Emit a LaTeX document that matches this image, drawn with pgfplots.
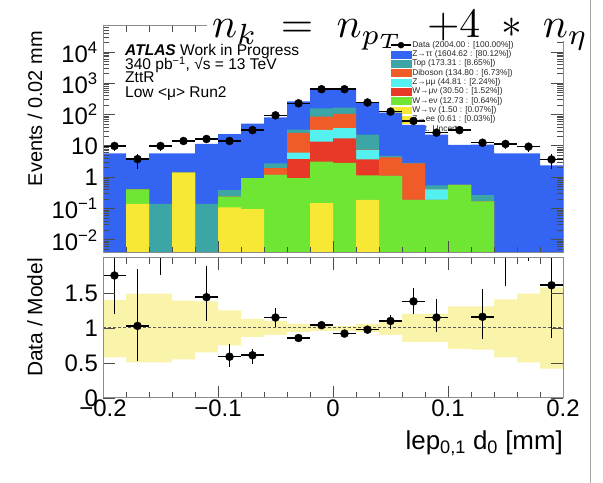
\documentclass[border=0pt]{standalone}
\usepackage{fontspec}
\setmainfont{Liberation Sans}
\usepackage{graphicx}
\usepackage{pgfplots}
\usepackage{pgfplotstable}
\pgfplotsset{compat=1.18}

\definecolor{cztt}{RGB}{52,100,242}
\definecolor{ctop}{RGB}{60,165,165}
\definecolor{cdib}{RGB}{240,92,40}
\definecolor{czmm}{RGB}{85,240,240}
\definecolor{cwmn}{RGB}{232,56,40}
\definecolor{cwen}{RGB}{112,230,52}
\definecolor{cwtn}{RGB}{246,232,52}
\definecolor{cstat}{RGB}{70,160,80}
\definecolor{cband}{RGB}{250,243,170}
\definecolor{cframe}{RGB}{140,140,140}

% cumulative stack tops per bin (left edge), bottom layer first
\pgfplotstableread{
x      yel    grn    red    cyn    ora    tea    blu
-0.20  1e-4   1e-4   1e-4   1e-4   1e-4   1e-4   1e-4
-0.20  1e-4   1e-4   1e-4   1e-4   1e-4   1e-4   5.8
-0.18  0.14   0.41   0.41   0.41   0.41   0.41   3.6
-0.16  1e-4   1e-4   1e-4   1e-4   1e-4   0.14   5.8
-0.14  1.4    1.4    1.4    1.4    1.4    1.4    5.8
-0.12  1e-4   1e-4   1e-4   1e-4   1e-4   0.14   11.6
-0.10  0.11   0.24   0.24   0.24   0.24   0.39   24
-0.08  0.095  0.93   0.93   0.93   0.93   0.93   52
-0.06  1e-4   1.18   1.18   1.18   1.94   2.8    82
-0.04  1e-4   0.93   3.8    6.1    26     33     265
-0.02  0.15   3.15   13.7   32.5   86     160    625
 0.00  1e-4   2.9    17.6   37     105    167    700
 0.02  0.19   1.15   3.7    7.3    7.6    23     245
 0.04  1e-4   1.1    1.1    1.1    4.3    4.8    115
 0.06  1e-4   0.19   0.19   0.19   2.8    2.9    47
 0.08  1e-4   0.19   0.19   0.41   0.41   0.55   23
 0.10  1e-4   0.57   0.57   0.57   0.57   0.57   10.8
 0.12  1e-4   0.17   0.17   0.17   0.17   0.27   11
 0.14  1e-4   1e-4   1e-4   1e-4   1e-4   1e-4   5.8
 0.16  1e-4   1e-4   1e-4   1e-4   1e-4   1e-4   5.8
 0.18  1e-4   1e-4   1e-4   1e-4   1e-4   1e-4   2.4
 0.20  1e-4   1e-4   1e-4   1e-4   1e-4   1e-4   2.4
 0.20  1e-4   1e-4   1e-4   1e-4   1e-4   1e-4   1e-4
}\stack

% ratio panel uncertainty band
\pgfplotstableread{
x      up     dn
-0.20  1.40   0.58
-0.18  1.49   0.51
-0.16  1.49   0.51
-0.14  1.39   0.55
-0.12  1.38   0.65
-0.10  1.25   0.75
-0.08  1.13   0.87
-0.06  1.10   0.90
-0.04  1.06   0.94
-0.02  1.04   0.96
 0.00  1.03   0.96
 0.02  1.06   0.94
 0.04  1.10   0.90
 0.06  1.20   0.80
 0.08  1.20   0.80
 0.10  1.31   0.70
 0.12  1.31   0.69
 0.14  1.41   0.58
 0.16  1.49   0.51
 0.18  1.58   0.42
 0.20  1.58   0.42
}\band

\pgfplotsset{
  panel/.style={
    scale only axis, width=460bp, anchor=south west,
    xmin=-0.2, xmax=0.2, axis on top,
    axis line style={cframe, line width=1bp},
    every tick/.style={black!70, line width=0.9bp},
    major tick length=12bp, minor tick length=6bp,
    xtick={-0.2,-0.1,0,0.1,0.2}, minor x tick num=4,
    tick label style={font=\fontsize{24}{24}\selectfont, inner sep=0pt},
    yticklabel style={xshift=-5bp},
    xticklabel style={yshift=-2bp},
  },
  fillh/.style={const plot, draw=none, fill=#1},
  legbox/.style={legend image code/.code={\fill[#1] (0bp,-3.4bp) rectangle (20bp,3.4bp);}},
}

\begin{document}
\begin{tikzpicture}
\useasboundingbox (0bp,0bp) rectangle (603bp,483bp);

% legend (drawn first, so the stack covers it as in the original)
\begin{axis}[at={(103bp,230bp)}, anchor=south west, scale only axis,
  width=460bp, height=227bp, hide axis, xmin=0, xmax=1, ymin=0, ymax=1,
  legend cell align=left,
  legend style={at={(0.624,0.937)}, anchor=north west, draw=none, fill=none,
    inner sep=0pt, row sep=0pt, font=\fontsize{8.4}{9}\selectfont,
    nodes={inner sep=0.6bp, text height=6.3bp, text depth=1.8bp, text=black!85}}]
\addlegendimage{legend image code/.code={\draw[black,line width=1.5bp] (0bp,0bp)--(20bp,0bp); \fill[black] (10bp,0bp) circle (3bp);}}
\addlegendentry{Data (2004.00 : [100.00\%])}
\addlegendimage{legbox=cztt}
\addlegendentry{Z→ττ (1604.62 : [80.12\%])}
\addlegendimage{legbox=ctop}
\addlegendentry{Top (173.31 : [8.65\%])}
\addlegendimage{legbox=cdib}
\addlegendentry{Diboson (134.80 : [6.73\%])}
\addlegendimage{legbox=czmm}
\addlegendentry{Z→μμ (44.81 : [2.24\%])}
\addlegendimage{legbox=cwmn}
\addlegendentry{W→μν (30.50 : [1.52\%])}
\addlegendimage{legbox=cwen}
\addlegendentry{W→eν (12.73 : [0.64\%])}
\addlegendimage{legbox=cwtn}
\addlegendentry{W→τν (1.50 : [0.07\%])}
\addlegendimage{legbox=cwtn}
\addlegendentry{Z→ee (0.61 : [0.03\%])}
\addlegendimage{legbox=cstat}
\addlegendentry{Stat. Uncert.}
\end{axis}

% upper panel
\begin{axis}[panel, at={(103bp,230bp)}, height=227bp,
  ymode=log, ymin=3.8e-3, ymax=6.8e4,
  xticklabels={},
  ytick={0.01,0.1,1,10,100,1000,10000},
  yticklabels={10\textsuperscript{−2},10\textsuperscript{−1},1,10,10\textsuperscript{2},10\textsuperscript{3},10\textsuperscript{4}},
  minor ytick={0.004,0.005,0.006,0.007,0.008,0.009,
    0.02,0.03,0.04,0.05,0.06,0.07,0.08,0.09,
    0.2,0.3,0.4,0.5,0.6,0.7,0.8,0.9,
    2,3,4,5,6,7,8,9,20,30,40,50,60,70,80,90,
    200,300,400,500,600,700,800,900,
    2000,3000,4000,5000,6000,7000,8000,9000,
    20000,30000,40000,50000,60000},
  ]
\addplot[fillh=cztt] table[x=x, y=blu] {\stack};
\addplot[fillh=ctop] table[x=x, y=tea] {\stack};
\addplot[fillh=cdib] table[x=x, y=ora] {\stack};
\addplot[fillh=czmm] table[x=x, y=cyn] {\stack};
\addplot[fillh=cwmn] table[x=x, y=red] {\stack};
\addplot[fillh=cwen] table[x=x, y=grn] {\stack};
\addplot[fillh=cwtn] table[x=x, y=yel] {\stack};
\addplot[only marks, mark=*, mark size=4bp, black,
  error bars/.cd, x dir=both, x explicit, y dir=both, y explicit,
  error bar style={line width=1.6bp}, error mark=none]
  coordinates {
  (-0.19,10) +- (0.01,3.2)
  (-0.17,3.8) +- (0.01,1.9)
  (-0.15,10) +- (0.01,3.2)
  (-0.13,14.4) +- (0.01,3.8)
  (-0.11,16.7) +- (0.01,4.1)
  (-0.09,14.4) +- (0.01,3.8)
  (-0.07,32) +- (0.01,5.7)
  (-0.05,95) +- (0.01,9.7)
  (-0.03,230) +- (0.01,15)
  (-0.01,650) +- (0.01,25)
  (0.01,650) +- (0.01,25)
  (0.03,245) +- (0.01,16)
  (0.05,125) +- (0.01,11)
  (0.07,63) +- (0.01,8)
  (0.09,26.6) +- (0.01,5.2)
  (0.11,32) +- (0.01,5.7)
  (0.13,12.7) +- (0.01,3.6)
  (0.15,11.6) +- (0.01,3.4)
  (0.17,9.5) +- (0.01,3.1)
  (0.19,3.7) +- (0.01,1.9)
  };
\end{axis}

% ratio panel
\begin{axis}[panel, at={(103bp,85bp)}, height=140bp,
  ymin=0, ymax=2,
  xticklabels={−0.2,−0.1,0,0.1,0.2},
  ytick={0,0.5,1,1.5}, yticklabels={0,0.5,1,1.5},
  ]
\addplot[const plot, draw=none, fill=cband] table[x=x, y=up] {\band} \closedcycle;
\addplot[const plot, draw=none, fill=white] table[x=x, y=dn] {\band} \closedcycle;
\addplot[black!65, line width=1bp, dash pattern=on 2.5bp off 2.5bp] coordinates {(-0.2,1) (0.2,1)};
\addplot[only marks, mark=*, mark size=4bp, black,
  error bars/.cd, x dir=both, x explicit, y dir=both, y explicit,
  error bar style={line width=1.6bp}, error mark=none]
  coordinates {
  (-0.19,1.75) += (0.01,0.60) -= (0.01,0.55)
  (-0.17,1.03) += (0.01,0.81) -= (0.01,0.50)
  (-0.15,2.45) += (0.01,0.80) -= (0.01,0.70)
  (-0.11,1.44) += (0.01,0.45) -= (0.01,0.34)
  (-0.09,0.59) += (0.01,0.18) -= (0.01,0.15)
  (-0.07,0.61) += (0.01,0.09) -= (0.01,0.12)
  (-0.05,1.15) += (0.01,0.13) -= (0.01,0.13)
  (-0.03,0.857) += (0.01,0.04) -= (0.01,0.04)
  (-0.01,1.04) += (0.01,0.03) -= (0.01,0.03)
  (0.01,0.92) += (0.01,0.03) -= (0.01,0.03)
  (0.03,0.976) += (0.01,0.04) -= (0.01,0.04)
  (0.05,1.10) += (0.01,0.08) -= (0.01,0.11)
  (0.07,1.38) += (0.01,0.19) -= (0.01,0.18)
  (0.09,1.15) += (0.01,0.27) -= (0.01,0.21)
  (0.13,1.16) += (0.01,0.40) -= (0.01,0.32)
  (0.15,2.40) += (0.01,0.80) -= (0.01,0.80)
  (0.17,2.90) += (0.01,1.00) -= (0.01,0.94)
  (0.19,1.61) += (0.01,0.80) -= (0.01,0.76)
  };
\end{axis}

% texts
\node[anchor=base west, inner sep=0pt, font=\fontsize{15.6}{15.6}\selectfont] at (125bp,427.6bp) {\textbf{\textit{ATLAS}} Work in Progress};
\node[anchor=base west, inner sep=0pt, font=\fontsize{15.6}{15.6}\selectfont] at (125bp,413.6bp) {340 pb\textsuperscript{−1}, √s = 13 TeV};
\node[anchor=base west, inner sep=0pt, font=\fontsize{15.6}{15.6}\selectfont] at (125bp,400.6bp) {ZttR};
\node[anchor=base west, inner sep=0pt, font=\fontsize{15.6}{15.6}\selectfont] at (125bp,385.6bp) {Low <μ> Run2};
\node[rotate=90, anchor=east, inner sep=0pt, font=\fontsize{20}{20}\selectfont] at (35bp,452bp) {Events / 0.02 mm};
\node[rotate=90, anchor=east, inner sep=0pt, font=\fontsize{21}{21}\selectfont] at (35bp,225bp) {Data / Model};
\node[anchor=base east, inner sep=0pt, font=\fontsize{26}{26}\selectfont] at (563bp,34bp) {lep\textsubscript{0,1} d\textsubscript{0} [mm]};

% pasted formula on top
\fill[white] (207bp,442bp) rectangle (590bp,483bp);
\node[anchor=base west, inner sep=0pt] at (212bp,445bp) {\resizebox{376bp}{!}{$n_k \;=\; n_{p_T}\;\; {+}4 \;*\; n_\eta$}};
\draw[black!35, line width=1bp] (590bp,0bp) -- (590bp,483bp);
\end{tikzpicture}
\end{document}
